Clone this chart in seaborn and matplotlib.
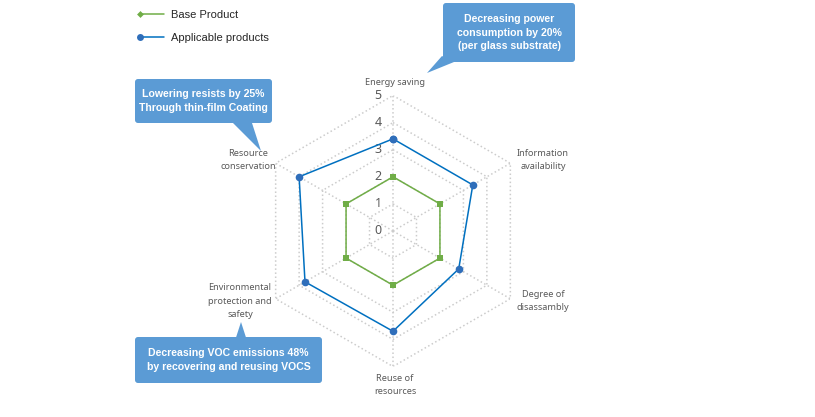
import numpy as np
import pandas as pd
import seaborn as sns
import matplotlib.pyplot as plt
from matplotlib.patches import FancyBboxPatch, Polygon
from matplotlib.lines import Line2D
from matplotlib.legend_handler import HandlerLine2D
from matplotlib.transforms import offset_copy

# Chart data
categories = ["Energy saving", "Information\navailability", "Degree of\ndisassambly",
              "Reuse of\nresources", "Environmental\nprotection and\nsafety",
              "Resource\nconservation"]
base_product = [2, 2, 2, 2, 2, 2]
applicable_products = [3.4, 3.4, 2.8, 3.7, 3.75, 4.0]
radial_ticks = [0, 1, 2, 3, 4, 5]
series_names = ["Base Product", "Applicable products"]

# Callout texts
callouts = [
    "Decreasing power\nconsumption by 20%\n(per glass substrate)",
    "Lowering resists by 25%\nThrough thin-film Coating",
    "Decreasing VOC emissions 48%\nby recovering and reusing VOCS",
]

GREEN = "#70AD47"
BLUE_LINE = "#0070C0"
BLUE_MARK = "#2F6EBA"
CALLOUT = "#5B9BD5"
TEXT_GREY = "#595959"
GRID = "#CCCCCC"

sns.set_theme(style="white")
plt.rcParams['font.family'] = ['Liberation Sans', 'DejaVu Sans']

W, H = 815, 417
fig = plt.figure(figsize=(W / 100, H / 100), dpi=100)

# overlay in pixel units for labels / callouts
overlay = fig.add_axes([0, 0, 1, 1])
overlay.set_xlim(0, W)
overlay.set_ylim(H, 0)
overlay.axis('off')

# radar axes: centre (393, 231), radius 135.5 px for value 5
cx, cy, R = 393, 231, 135.5
ax = fig.add_axes([(cx - R) / W, (H - cy - R) / H, 2 * R / W, 2 * R / H], projection='polar')
ax.set_theta_offset(np.pi / 2)
ax.set_theta_direction(-1)
ax.set_ylim(0, 5)
ax.grid(False)
ax.spines['polar'].set_visible(False)
ax.patch.set_alpha(0)

n = len(categories)
theta = np.linspace(0, 2 * np.pi, n, endpoint=False)
theta_closed = np.append(theta, theta[0])

# hexagonal dotted grid
for lvl in radial_ticks[1:]:
    ax.plot(theta_closed, [lvl] * (n + 1), ls=':', color=GRID, lw=1.1, zorder=1)
for t in theta:
    ax.plot([t, t], [0, radial_ticks[-1]], ls=':', color=GRID, lw=1.1, zorder=1)

# radial tick labels left of the top spoke
lab_tr = offset_copy(ax.transData, fig=fig, x=-15, y=0, units='dots')
for lvl in radial_ticks:
    ax.text(0, lvl, str(lvl), transform=lab_tr, ha='center', va='center',
            fontsize=9, color=TEXT_GREY, family=['Noto Sans', 'DejaVu Sans'])

df_base = pd.DataFrame({"theta": theta_closed, "value": np.append(base_product, base_product[0])})
df_app = pd.DataFrame({"theta": theta_closed,
                       "value": np.append(applicable_products, applicable_products[0])})

sns.lineplot(data=df_base, x="theta", y="value", sort=False, estimator=None, ax=ax,
             color=GREEN, lw=1.1, marker='s', markersize=3.8, markeredgewidth=0,
             markerfacecolor=GREEN, zorder=3)
sns.lineplot(data=df_app, x="theta", y="value", sort=False, estimator=None, ax=ax,
             color=BLUE_LINE, lw=1.1, marker='o', markersize=5.5, markeredgewidth=0,
             markerfacecolor=BLUE_MARK, zorder=4)
ax.set_xlabel("")
ax.set_ylabel("")
ax.set_xticks([])
ax.set_yticks([])
ax.set_ylim(0, 5)

# category labels
label_pos = [(395, 82), (543, 160), (543, 301), (395, 385), (240, 301), (248, 160)]
for (x, y), lab in zip(label_pos, categories):
    overlay.text(x, y, lab, ha='center', va='center', fontsize=6.6, color=TEXT_GREY,
                 family=['Noto Sans', 'DejaVu Sans'], linespacing=1.6)


# legend: marker at the left end of the handle line
class LeftMarkerHandler(HandlerLine2D):
    def create_artists(self, legend, orig_handle, xdescent, ydescent, width, height,
                       fontsize, trans):
        artists = super().create_artists(legend, orig_handle, xdescent, ydescent,
                                         width, height, fontsize, trans)
        for a in artists:
            a.set_markevery([0])
        return artists


handles = [
    Line2D([], [], color=GREEN, lw=1.1, marker='D', markersize=3.5, markeredgewidth=0),
    Line2D([], [], color=BLUE_LINE, lw=1.1, marker='o', markersize=5, markeredgewidth=0,
           markerfacecolor=BLUE_MARK),
]
fig.legend(handles, series_names, loc='upper left', bbox_to_anchor=(140 / W, 1 - 10 / H),
           frameon=False, handlelength=2.2, handletextpad=0.6,
           labelspacing=1.2, borderpad=0, borderaxespad=0,
           handler_map={h: LeftMarkerHandler() for h in handles},
           prop={'family': ['Liberation Sans', 'DejaVu Sans'], 'size': 8})

# callout boxes (x, y, w, h) and tails in pixel units
boxes = [(443, 3, 132, 59), (135, 79, 137, 44), (135, 337, 187, 46)]
tails = [
    [(442, 56), (454, 62), (427, 73)],
    [(233, 123), (252, 123), (261, 151)],
    [(236, 337.5), (246, 337.5), (241, 322)],
]
for (x, y, w, h), tail, txt in zip(boxes, tails, callouts):
    overlay.add_patch(FancyBboxPatch((x, y), w, h, boxstyle="round,pad=0,rounding_size=3",
                                     facecolor=CALLOUT, edgecolor='none'))
    overlay.add_patch(Polygon(tail, closed=True, facecolor=CALLOUT, edgecolor='none'))
    overlay.text(x + w / 2, y + h / 2, txt, ha='center', va='center', color='white',
                 fontsize=7.6, fontweight='bold', linespacing=1.4,
                 family=['Liberation Sans', 'DejaVu Sans'])

fig.savefig("out.png", dpi=100)
